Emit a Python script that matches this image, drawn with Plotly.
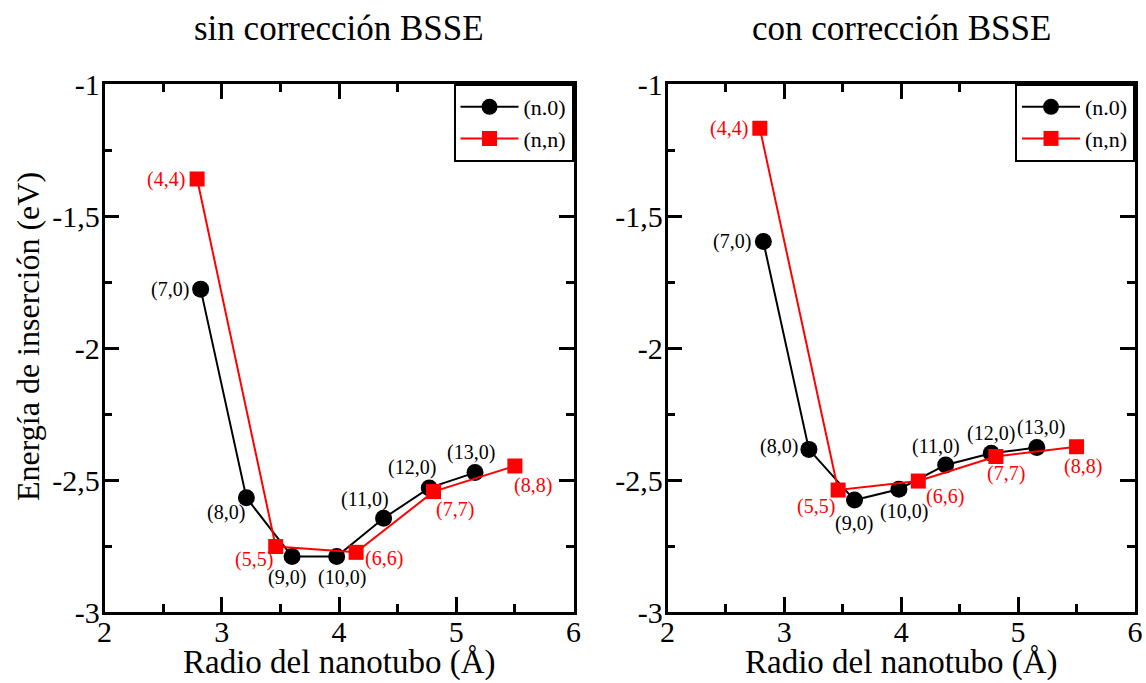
import plotly.graph_objects as go

# ---- data ----
titles = ["sin corrección BSSE", "con corrección BSSE"]
x_title = "Radio del nanotubo (Å)"
y_title = "Energía de inserción (eV)"

zig_labels = ["(7,0)", "(8,0)", "(9,0)", "(10,0)", "(11,0)", "(12,0)", "(13,0)"]
arm_labels = ["(4,4)", "(5,5)", "(6,6)", "(7,7)", "(8,8)"]

zig_r_sin = [2.82, 3.21, 3.60, 3.98, 4.38, 4.77, 5.16]
zig_e_sin = [-1.777, -2.567, -2.79, -2.79, -2.645, -2.53, -2.472]
arm_r_sin = [2.79, 3.46, 4.146, 4.806, 5.50]
arm_e_sin = [-1.36, -2.752, -2.774, -2.544, -2.447]

zig_r_con = [2.82, 3.21, 3.60, 3.98, 4.38, 4.77, 5.16]
zig_e_con = [-1.597, -2.384, -2.576, -2.535, -2.443, -2.399, -2.377]
arm_r_con = [2.79, 3.46, 4.146, 4.81, 5.50]
arm_e_con = [-1.168, -2.538, -2.504, -2.411, -2.374]

x_tickvals = [2, 3, 4, 5, 6]
x_ticktext = ["2", "3", "4", "5", "6"]
y_tickvals = [-1, -1.5, -2, -2.5, -3]
y_ticktext = ["-1", "-1,5", "-2", "-2,5", "-3"]

legend_names = ["(n.0)", "(n,n)"]

# label offsets (style): (xanchor, xshift, yshift)
zig_off_sin = [("right", -10, 0), ("center", -20, -15), ("center", -5, -21), ("center", 5, -21),
               ("center", -19, 19), ("center", -17, 20), ("center", -4, 20)]
arm_off_sin = [("right", -10, 0), ("center", -22, -13), ("center", 28, -6),
               ("center", 21, -18), ("center", 18, -19)]
zig_off_con = [("right", -10, 0), ("right", -9, 3), ("center", -1, -23), ("center", 5, -22),
               ("center", -10, 18), ("center", 0, 20), ("center", 4, 20)]
arm_off_con = [("right", -10, 0), ("center", -22, -16), ("center", 27, -15),
               ("center", 10, -17), ("center", 6, -20)]

BLACK = "#000000"
RED = "#ff0000"
FONT = "Liberation Serif"

fig = go.Figure()

panels = [
    ("x", "y", zig_r_sin, zig_e_sin, arm_r_sin, arm_e_sin, zig_off_sin, arm_off_sin, "legend"),
    ("x2", "y2", zig_r_con, zig_e_con, arm_r_con, arm_e_con, zig_off_con, arm_off_con, "legend2"),
]

annotations = []
for xa, ya, zr, ze, ar, ae, zoff, aoff, leg in panels:
    fig.add_trace(go.Scatter(x=zr, y=ze, xaxis=xa, yaxis=ya, mode="lines+markers",
                             name=legend_names[0], legend=leg,
                             line=dict(color=BLACK, width=2),
                             marker=dict(symbol="circle", size=17, color=BLACK)))
    fig.add_trace(go.Scatter(x=ar, y=ae, xaxis=xa, yaxis=ya, mode="lines+markers",
                             name=legend_names[1], legend=leg,
                             line=dict(color=RED, width=2),
                             marker=dict(symbol="square", size=15, color=RED)))
    for lab, xv, yv, (anc, xs, ys) in zip(zig_labels, zr, ze, zoff):
        annotations.append(dict(x=xv, y=yv, xref=xa, yref=ya, text=lab, showarrow=False,
                                xanchor=anc, yanchor="middle", xshift=xs, yshift=ys,
                                font=dict(family=FONT, size=20, color=BLACK)))
    for lab, xv, yv, (anc, xs, ys) in zip(arm_labels, ar, ae, aoff):
        annotations.append(dict(x=xv, y=yv, xref=xa, yref=ya, text=lab, showarrow=False,
                                xanchor=anc, yanchor="middle", xshift=xs, yshift=ys,
                                font=dict(family=FONT, size=20, color=RED)))

W, H = 1146, 683
xd1 = [104.5 / W, 573.5 / W]
xd2 = [667.5 / W, 1135 / W]
yd = [1 - 612 / H, 1 - 84 / H]

for t, xc in zip(titles, [(xd1[0] + xd1[1]) / 2, (xd2[0] + xd2[1]) / 2]):
    annotations.append(dict(x=xc, y=1 - 28 / H, xref="paper", yref="paper", text=t,
                            showarrow=False, xanchor="center", yanchor="middle",
                            font=dict(family=FONT, size=35, color=BLACK)))
    annotations.append(dict(x=xc, y=1 - 662 / H, xref="paper", yref="paper", text=x_title,
                            showarrow=False, xanchor="center", yanchor="middle",
                            font=dict(family=FONT, size=33, color=BLACK)))
annotations.append(dict(x=28 / W, y=1 - 337 / H, xref="paper", yref="paper", text=y_title,
                        showarrow=False, xanchor="center", yanchor="middle", textangle=-90,
                        font=dict(family=FONT, size=32, color=BLACK)))

axis_common = dict(showline=True, linecolor=BLACK, linewidth=2.5, mirror="allticks",
                   ticks="inside", ticklen=15, tickwidth=2.5, tickcolor=BLACK,
                   showgrid=False, zeroline=False, automargin=False,
                   tickfont=dict(family=FONT, size=30, color=BLACK))

xaxis = dict(axis_common, range=[2, 6], tickvals=x_tickvals, ticktext=x_ticktext,
             ticklabelstandoff=-9,
             minor=dict(dtick=0.5, tick0=2, ticks="inside", ticklen=8, tickwidth=2.5,
                        tickcolor=BLACK, showgrid=False))
yaxis = dict(axis_common, range=[-3, -1], tickvals=y_tickvals, ticktext=y_ticktext,
             ticklabelstandoff=-4,
             minor=dict(dtick=0.25, tick0=-3, ticks="inside", ticklen=8, tickwidth=2.5,
                        tickcolor=BLACK, showgrid=False))

legend_common = dict(bgcolor="white", bordercolor=BLACK, borderwidth=2,
                     font=dict(family=FONT, size=22, color=BLACK),
                     xanchor="right", yanchor="top", tracegroupgap=0, itemwidth=58)

fig.update_layout(
    width=W, height=H,
    margin=dict(l=0, r=0, t=0, b=0, autoexpand=False),
    paper_bgcolor="white", plot_bgcolor="white",
    font=dict(family=FONT, color=BLACK),
    xaxis=dict(xaxis, domain=xd1, anchor="y"),
    yaxis=dict(yaxis, domain=yd, anchor="x"),
    xaxis2=dict(xaxis, domain=xd2, anchor="y2"),
    yaxis2=dict(yaxis, domain=yd, anchor="x2"),
    legend=dict(legend_common, x=xd1[1], y=yd[1]),
    legend2=dict(legend_common, x=xd2[1], y=yd[1]),
    annotations=annotations,
    showlegend=True,
)

fig.write_html("out.html")
